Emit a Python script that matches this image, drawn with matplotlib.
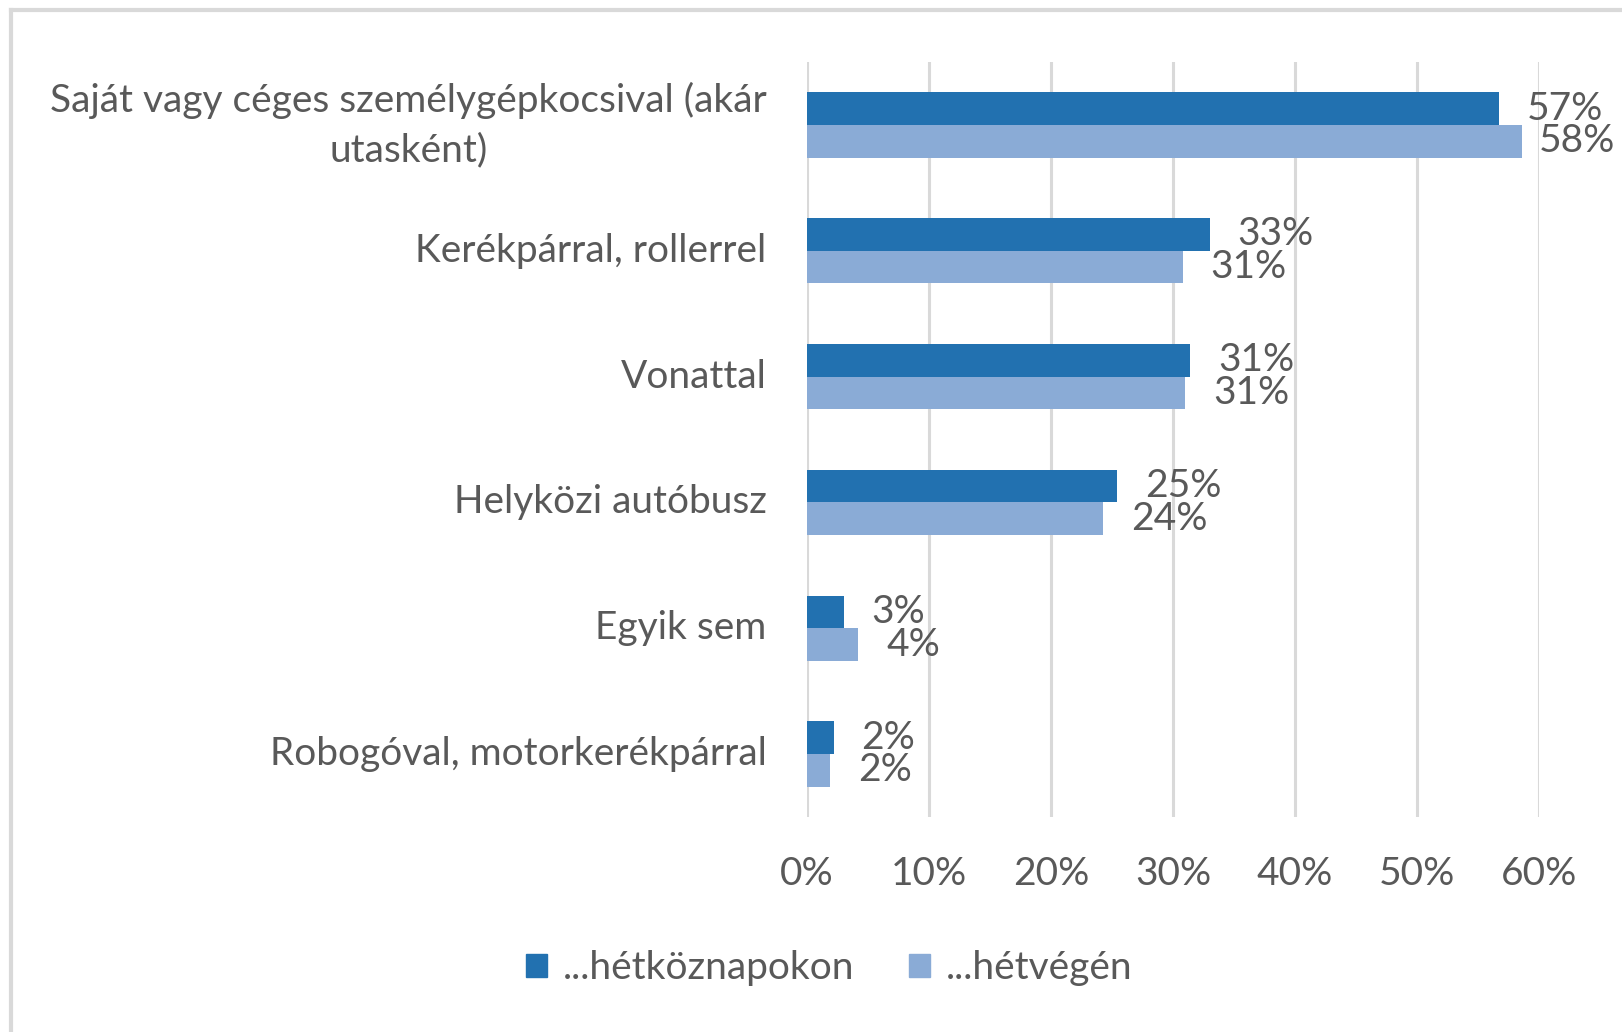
import matplotlib
matplotlib.use("Agg")
import matplotlib.pyplot as plt
from matplotlib.patches import Patch
from matplotlib.lines import Line2D
from matplotlib.ticker import FuncFormatter

categories = ["Saját vagy céges személygépkocsival (akár\nutasként)",
              "Kerékpárral, rollerrel",
              "Vonattal",
              "Helyközi autóbusz",
              "Egyik sem",
              "Robogóval, motorkerékpárral"]
weekday = [56.7, 33.0, 31.4, 25.4, 3.0, 2.2]
weekend = [58.6, 30.8, 31.0, 24.3, 4.2, 1.9]
weekday_labels = ["57%", "33%", "31%", "25%", "3%", "2%"]
weekend_labels = ["58%", "31%", "31%", "24%", "4%", "2%"]
series_names = ["...hétköznapokon", "...hétvégén"]

dark = "#2271b0"
light = "#8aabd6"
txt = "#595959"
grid = "#d9d9d9"
fs = 28

plt.rcParams['font.family'] = ['Lato', 'DejaVu Sans']

W, H = 1622, 1032
fig = plt.figure(figsize=(W / 100, H / 100), dpi=100)
ax = fig.add_axes([807 / W, 1 - 817 / H, 732 / W, 755 / H])

bh = 0.26
ys = range(len(categories))
ax.barh([y - bh / 2 for y in ys], weekday, height=bh, color=dark)
ax.barh([y + bh / 2 for y in ys], weekend, height=bh, color=light)

annots = []
for y, v, lab in zip(ys, weekday, weekday_labels):
    annots.append(ax.annotate(lab, (v, y - bh / 2), xytext=(20, 0), textcoords="offset points",
                              va="center", ha="left", fontsize=fs, color=txt,
                              annotation_clip=False))
for y, v, lab in zip(ys, weekend, weekend_labels):
    annots.append(ax.annotate(lab, (v, y + bh / 2), xytext=(20, 0), textcoords="offset points",
                              va="center", ha="left", fontsize=fs, color=txt,
                              annotation_clip=False))

ax.set_xlim(0, 60)
ax.set_ylim(5.5, -0.5)
ax.set_xticks(range(0, 61, 10))
ax.xaxis.set_major_formatter(FuncFormatter(lambda v, p: f"{int(v)}%"))
ax.set_yticks(list(ys))
ax.set_yticklabels(categories, multialignment="center", linespacing=1.45, va="center")
ax.tick_params(axis="x", length=0, pad=28, labelsize=fs, labelcolor=txt)
ax.tick_params(axis="y", length=0, pad=29, labelsize=fs, labelcolor=txt)
for s in ax.spines.values():
    s.set_visible(False)
ax.set_axisbelow(True)
ax.grid(axis="x", color=grid, linewidth=2.2)

handles = [Patch(color=dark), Patch(color=light)]
fig.legend(handles, series_names, loc="center", bbox_to_anchor=(829 / W, 1 - 968 / H),
           ncol=2, frameon=False, fontsize=fs, labelcolor=txt,
           handlelength=0.55, handleheight=0.55, handletextpad=0.4, columnspacing=1.4)

# outer frame (left and top edges only visible)
fig.add_artist(Line2D([11 / W, 11 / W], [0, 1 - 10 / H], color=grid, linewidth=3,
                      transform=fig.transFigure))
fig.add_artist(Line2D([11 / W, 1], [1 - 10 / H, 1 - 10 / H], color=grid, linewidth=3,
                      transform=fig.transFigure))

# pull labels back inside the picture, like the spreadsheet does
fig.canvas.draw()
r = fig.canvas.get_renderer()
for a in annots:
    bb = a.get_window_extent(r)
    over = bb.x1 - (W - 7)
    if over > 0:
        x, y = a.xyann
        a.xyann = (x - over * 72 / fig.dpi, y)

fig.savefig("out.png", dpi=100, facecolor="white")
